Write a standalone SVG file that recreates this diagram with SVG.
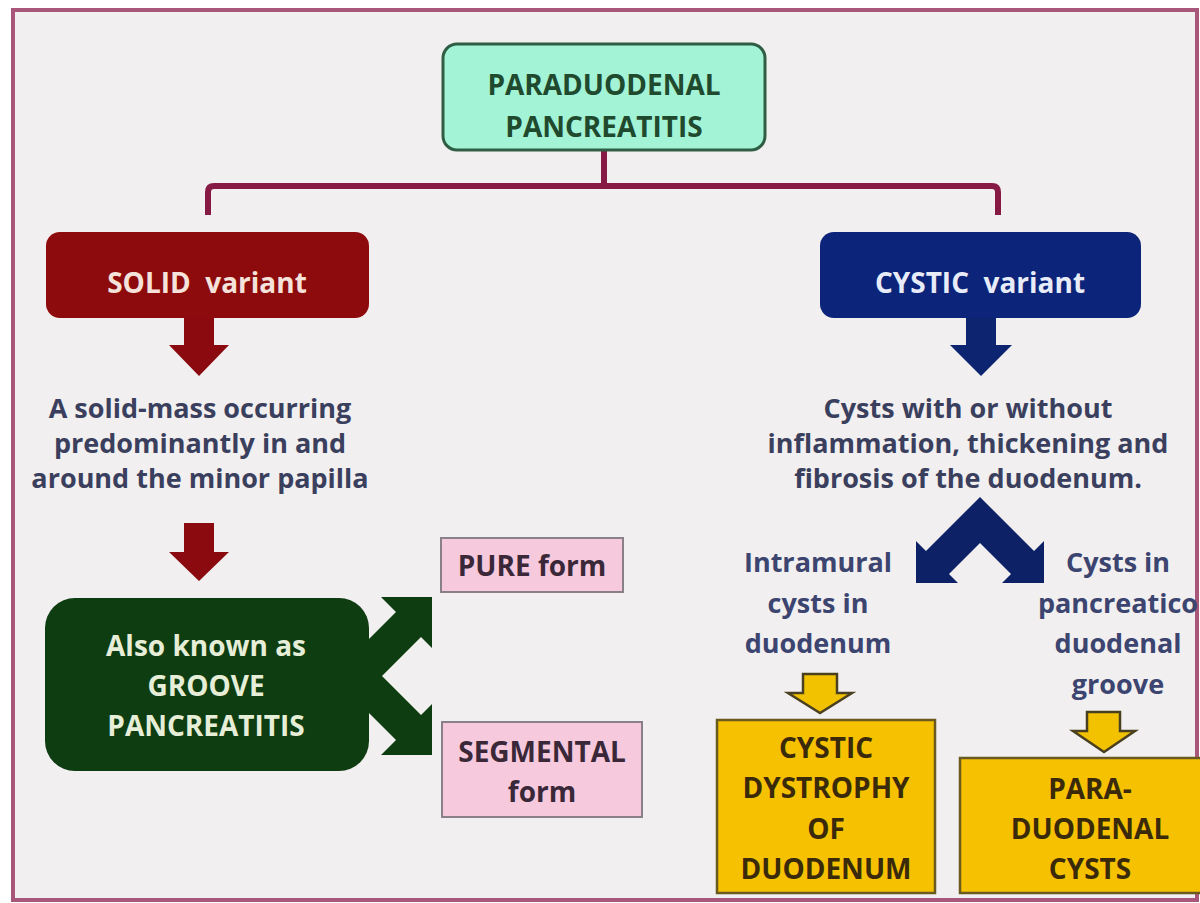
<svg xmlns="http://www.w3.org/2000/svg" width="1200" height="903" viewBox="0 0 1200 903">
<style>
text{font-family:"Open Sans","Liberation Sans",sans-serif;font-weight:bold;text-anchor:middle;font-size:28px;white-space:pre}
.top{fill:#1f4a2e}
.wl{fill:#f5e2da}
.wb{fill:#e8ecf8}
.desc{fill:#3b3f5e;font-size:27px}
.gr{fill:#e6eed8}
.pk{fill:#3a2838}
.sub{fill:#3c4470;font-size:27px}
.yl{fill:#3a2a0a}
.pinkbox{fill:#f6c9dd;stroke:#8a8088;stroke-width:2}
.ybox{fill:#f5c100;stroke:#6a5a20;stroke-width:2.5}
.yarrow{fill:#f2c200;stroke:#4a4020;stroke-width:2.5;stroke-linejoin:miter}
</style>
<rect x="0" y="0" width="1200" height="903" fill="#ffffff"/>
<rect x="13" y="10" width="1184" height="890" fill="#f1efef" stroke="#a8567a" stroke-width="4"/>

<g id="connectors">
  <path d="M604,150 V186 M208,215 V192 Q208,186 214,186 H992 Q998,186 998,192 V215" fill="none" stroke="#861a45" stroke-width="6"/>
  <polygon id="arrow-solid-1" points="184,318 214,318 214,345 229,345 199,376 169,345 184,345" fill="#8b0a0f"/>
  <polygon id="arrow-solid-2" points="184,523 214,523 214,552 229,552 199,581 169,552 184,552" fill="#8b0a0f"/>
  <polygon id="arrow-cystic" points="966,318 996,318 996,345 1012,345 981,376 950,345 966,345" fill="#0d2470"/>
  <polygon id="arrow-green" points="432,597 432,648 421,637 382,676 421,715 432,704 432,755 381,755 396,740 332,676 396,612 381,597" fill="#0f3d12"/>
  <polygon id="arrow-blue" points="980,497 1034,551 1044,541 1044,583 1002,583 1011,574 980,543 949,574 958,583 916,583 916,541 926,551" fill="#0d2166"/>
  <polygon id="arrow-yellow-1" class="yarrow" points="803,674 837,674 837,693 852,693 820,713 788,693 803,693"/>
  <polygon id="arrow-yellow-2" class="yarrow" points="1087,712 1120,712 1120,731 1135,731 1104,752 1073,731 1087,731"/>
</g>

<g id="node-paraduodenal">
  <rect x="443" y="44" width="322" height="106" rx="14" fill="#a3f3d6" stroke="#2f5e45" stroke-width="3"/>
  <text class="top" x="604" y="95">PARADUODENAL</text>
  <text class="top" x="604" y="137">PANCREATITIS</text>
</g>

<g id="node-solid">
  <rect x="46" y="232" width="323" height="86" rx="14" fill="#8e0b0d"/>
  <text class="wl" x="207" y="293">SOLID  variant</text>
</g>

<g id="node-cystic">
  <rect x="820" y="232" width="321" height="86" rx="14" fill="#0c2479"/>
  <text class="wb" x="980" y="293">CYSTIC  variant</text>
</g>

<g id="node-solid-desc">
  <text class="desc" x="200" y="418">A solid-mass occurring</text>
  <text class="desc" x="200" y="453">predominantly in and</text>
  <text class="desc" x="200" y="488">around the minor papilla</text>
</g>

<g id="node-cystic-desc">
  <text class="desc" x="968" y="418">Cysts with or without</text>
  <text class="desc" x="968" y="453">inflammation, thickening and</text>
  <text class="desc" x="968" y="488">fibrosis of the duodenum.</text>
</g>

<g id="node-groove">
  <rect x="45" y="598" width="324" height="173" rx="30" fill="#0f3d12"/>
  <text class="gr" x="206" y="656">Also known as</text>
  <text class="gr" x="206" y="696">GROOVE</text>
  <text class="gr" x="206" y="736">PANCREATITIS</text>
</g>

<g id="node-pure">
  <rect class="pinkbox" x="441" y="538" width="182" height="54"/>
  <text class="pk" x="532" y="576">PURE form</text>
</g>

<g id="node-segmental">
  <rect class="pinkbox" x="442" y="722" width="200" height="95"/>
  <text class="pk" x="542" y="762">SEGMENTAL</text>
  <text class="pk" x="542" y="802">form</text>
</g>

<g id="node-intramural">
  <text class="sub" x="818" y="572">Intramural</text>
  <text class="sub" x="818" y="613">cysts in</text>
  <text class="sub" x="818" y="653">duodenum</text>
</g>

<g id="node-groove-cysts">
  <text class="sub" x="1118" y="572">Cysts in</text>
  <text class="sub" x="1118" y="613">pancreatico</text>
  <text class="sub" x="1118" y="653">duodenal</text>
  <text class="sub" x="1118" y="694">groove</text>
</g>

<g id="node-cystic-dystrophy">
  <rect class="ybox" x="717" y="720" width="218" height="173"/>
  <text class="yl" x="826" y="758">CYSTIC</text>
  <text class="yl" x="826" y="798">DYSTROPHY</text>
  <text class="yl" x="826" y="839">OF</text>
  <text class="yl" x="826" y="879">DUODENUM</text>
</g>

<g id="node-paraduodenal-cysts">
  <rect class="ybox" x="960" y="758" width="245" height="135"/>
  <text class="yl" x="1090" y="799">PARA-</text>
  <text class="yl" x="1090" y="839">DUODENAL</text>
  <text class="yl" x="1090" y="879">CYSTS</text>
</g>
</svg>
